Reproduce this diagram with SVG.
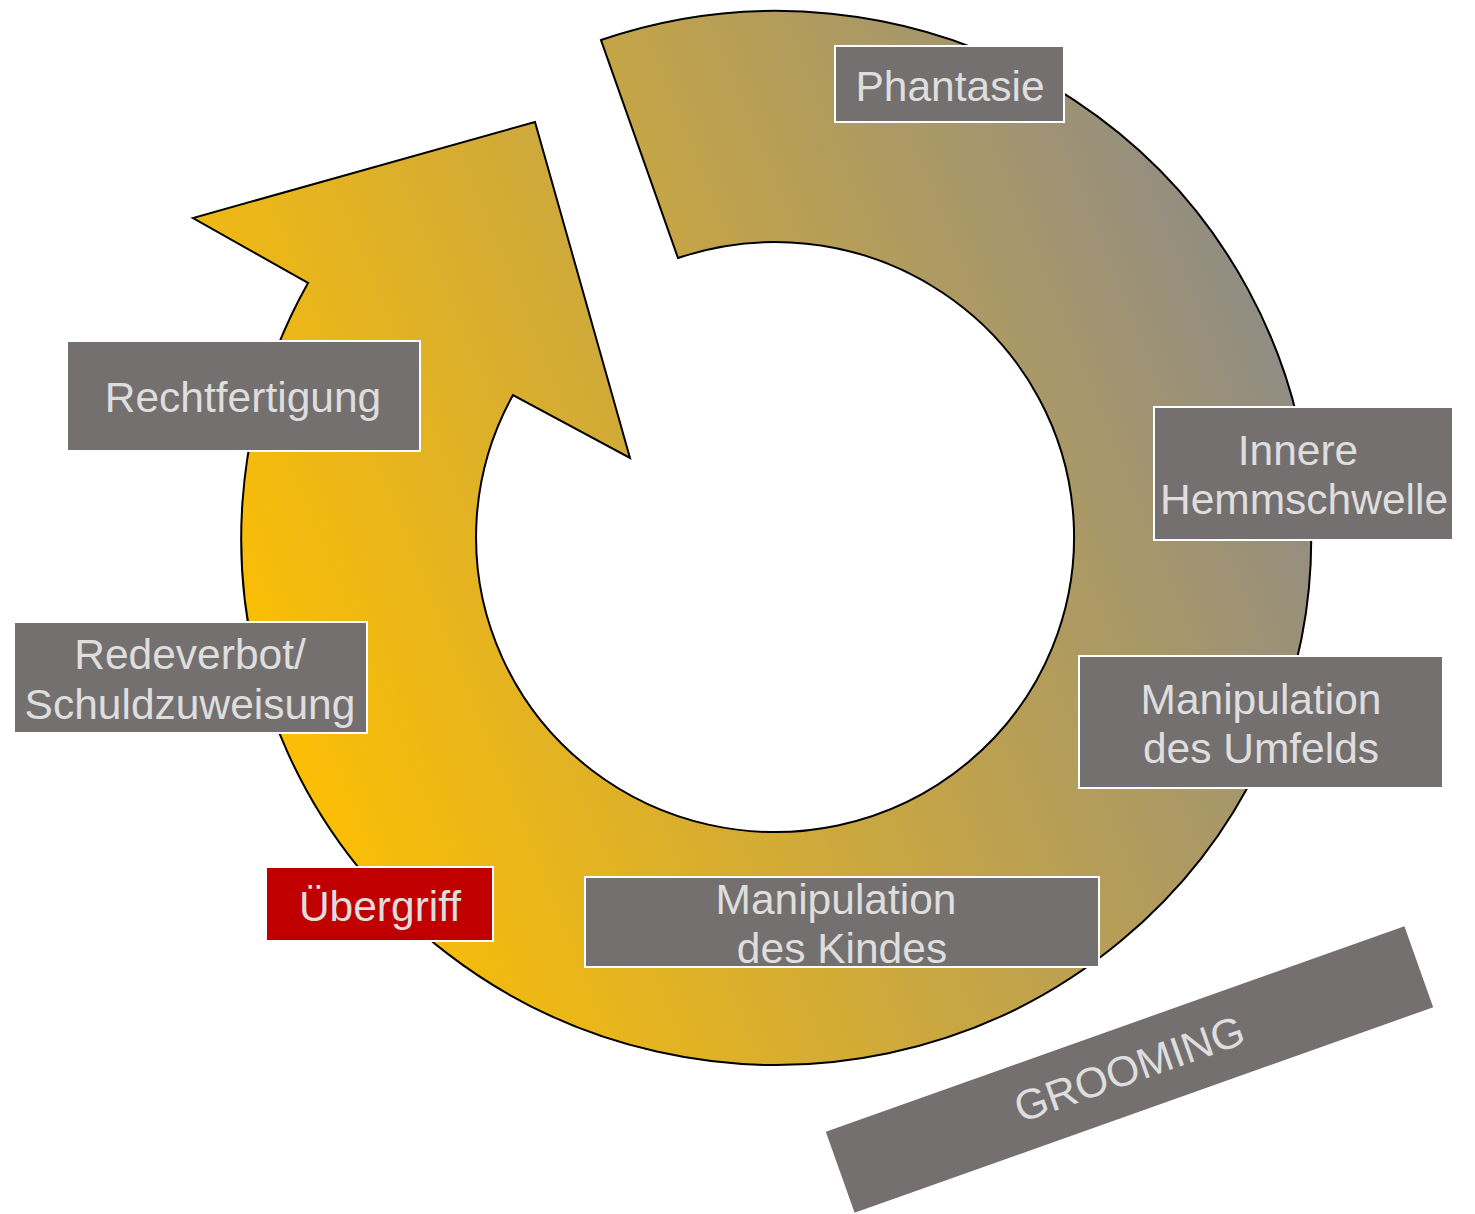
<svg xmlns="http://www.w3.org/2000/svg" width="1475" height="1214" viewBox="0 0 1475 1214">
  <defs>
    <linearGradient id="g" gradientUnits="userSpaceOnUse" x1="250" y1="760" x2="1310" y2="330">
      <stop offset="0" stop-color="#FFC000"/>
      <stop offset="1" stop-color="#8E8B88"/>
    </linearGradient>
    <style>
      .box { fill: #757070; stroke: #FFFFFF; stroke-width: 2; }
      .red { fill: #C00000; stroke: #FFFFFF; stroke-width: 2; }
      .t { font-family: "Liberation Sans", Arial, sans-serif; font-size: 42.5px; fill: #DEDEDE; text-anchor: middle; }
    </style>
  </defs>
  <rect width="1475" height="1214" fill="#FFFFFF"/>
  <g id="connectors">
    <path id="cycle-arrow" d="M 601,40 A 535 527 0 1 1 308,283 L 193,218 L 535,122 L 630,458 L 513,395 A 299 295 0 1 0 678,258 Z" fill="url(#g)" stroke="#000000" stroke-width="2" stroke-linejoin="miter"/>
  </g>
  <g id="phantasie">
    <rect class="box" x="835" y="46" width="229" height="76"/>
    <text class="t" x="950" y="101">Phantasie</text>
  </g>
  <g id="innere-hemmschwelle">
    <rect class="box" x="1154" y="407" width="299" height="133"/>
    <text class="t" x="1298" y="465">Innere</text>
    <text class="t" x="1304" y="514">Hemmschwelle</text>
  </g>
  <g id="manipulation-umfeld">
    <rect class="box" x="1079" y="656" width="364" height="132"/>
    <text class="t" x="1261" y="714">Manipulation</text>
    <text class="t" x="1261" y="763">des Umfelds</text>
  </g>
  <g id="manipulation-kind">
    <rect class="box" x="585" y="877" width="514" height="90"/>
    <text class="t" x="836" y="914">Manipulation</text>
    <text class="t" x="842" y="963">des Kindes</text>
  </g>
  <g id="uebergriff">
    <rect class="red" x="266" y="867" width="227" height="74"/>
    <text class="t" x="380" y="921">Übergriff</text>
  </g>
  <g id="redeverbot">
    <rect class="box" x="14" y="622" width="353" height="111"/>
    <text class="t" x="190" y="669">Redeverbot/</text>
    <text class="t" x="190" y="719">Schuldzuweisung</text>
  </g>
  <g id="rechtfertigung">
    <rect class="box" x="67" y="341" width="353" height="110"/>
    <text class="t" x="243" y="412">Rechtfertigung</text>
  </g>
  <g id="grooming" transform="translate(1129.5 1069.5) rotate(-19.55)">
    <rect x="-307" y="-43" width="614" height="86" fill="#757070"/>
    <text class="t" x="0" y="14">GROOMING</text>
  </g>
</svg>
